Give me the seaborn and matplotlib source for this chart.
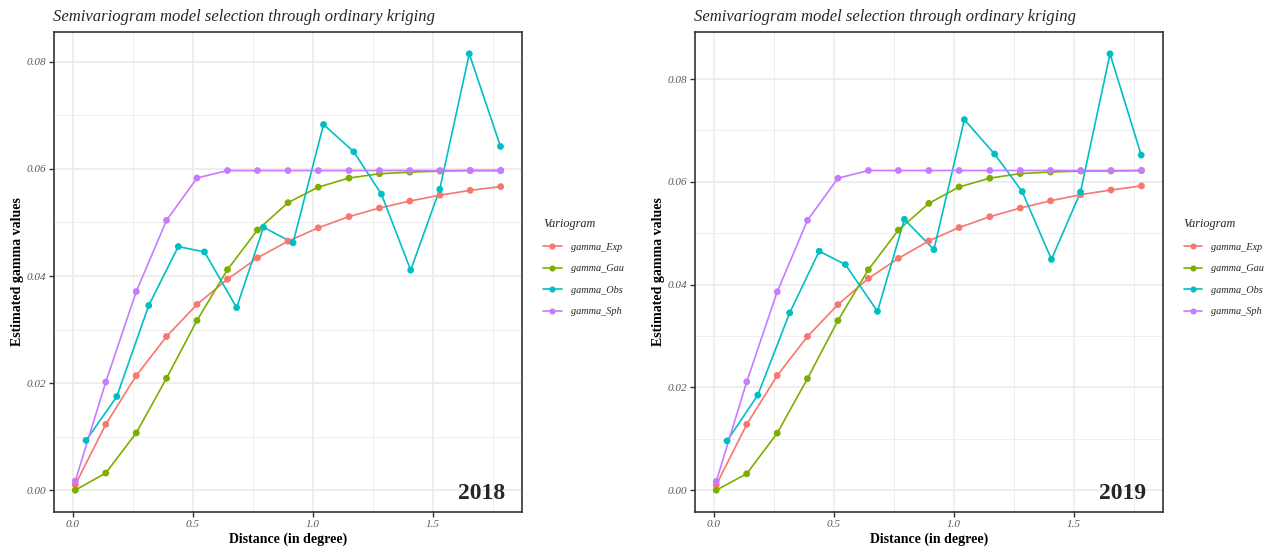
import numpy as np
import pandas as pd
import matplotlib
matplotlib.use("Agg")
import matplotlib.pyplot as plt
from matplotlib.lines import Line2D
import seaborn as sns

# ---------------- data ----------------
years = ["2018", "2019"]
series_names = ["gamma_Exp", "gamma_Gau", "gamma_Obs", "gamma_Sph"]
palette = ["#F8766D", "#7CAE00", "#00BFC4", "#C77CFF"]

dist_model = [0.010, 0.137, 0.264, 0.390, 0.517, 0.644, 0.769, 0.896,
              1.022, 1.150, 1.277, 1.403, 1.529, 1.655, 1.782]
dist_obs = [0.055, 0.183, 0.316, 0.439, 0.548, 0.682, 0.794, 0.917,
            1.044, 1.170, 1.285, 1.407, 1.528, 1.651, 1.781]

exp_2018 = [0.0010, 0.0123, 0.0214, 0.0287, 0.0347, 0.0394, 0.0434, 0.0465,
            0.0490, 0.0511, 0.0527, 0.0540, 0.0551, 0.0560, 0.0567]
gau_2018 = [0.0000, 0.0032, 0.0107, 0.0209, 0.0317, 0.0412, 0.0486, 0.0537,
            0.0566, 0.0583, 0.0591, 0.0594, 0.0596, 0.0597, 0.0597]
obs_2018 = [0.0093, 0.0175, 0.0345, 0.0455, 0.0445, 0.0341, 0.0491, 0.0462,
            0.0683, 0.0632, 0.0553, 0.0411, 0.0562, 0.0815, 0.0642]
sph_2018 = [0.0017, 0.0202, 0.0371, 0.0504, 0.0583, 0.0597, 0.0597, 0.0597,
            0.0597, 0.0597, 0.0597, 0.0597, 0.0597, 0.0597, 0.0597]

exp_2019 = [0.0010, 0.0128, 0.0223, 0.0299, 0.0361, 0.0412, 0.0451, 0.0485,
            0.0511, 0.0532, 0.0549, 0.0563, 0.0575, 0.0584, 0.0592]
gau_2019 = [0.0000, 0.0032, 0.0111, 0.0217, 0.0330, 0.0429, 0.0506, 0.0558,
            0.0590, 0.0607, 0.0616, 0.0619, 0.0621, 0.0621, 0.0622]
obs_2019 = [0.0096, 0.0185, 0.0345, 0.0465, 0.0439, 0.0348, 0.0527, 0.0468,
            0.0721, 0.0654, 0.0581, 0.0449, 0.0580, 0.0849, 0.0652]
sph_2019 = [0.0017, 0.0211, 0.0386, 0.0525, 0.0607, 0.0622, 0.0622, 0.0622,
            0.0622, 0.0622, 0.0622, 0.0622, 0.0622, 0.0622, 0.0622]

x_ticks = [0.0, 0.5, 1.0, 1.5]
x_tick_labels = ["0.0", "0.5", "1.0", "1.5"]
x_minor = [0.25, 0.75, 1.25, 1.75]
y_ticks = [0.00, 0.02, 0.04, 0.06, 0.08]
y_tick_labels = ["0.00", "0.02", "0.04", "0.06", "0.08"]
y_minor = [0.01, 0.03, 0.05, 0.07]

title_text = "Semivariogram model selection through ordinary kriging"
x_label = "Distance (in degree)"
y_label = "Estimated gamma values"
legend_title = "Variogram"

# ---------------- style ----------------
sns.set_style("white")
plt.rcParams["font.family"] = ["Liberation Serif", "DejaVu Serif"]

fig = plt.figure(figsize=(12.86, 5.47), dpi=100)
W, H = 1286, 547
ax_left = fig.add_axes([54 / W, (H - 512) / H, (522 - 54) / W, (512 - 32) / H])
ax_right = fig.add_axes([695 / W, (H - 512) / H, (1162.7 - 695) / W, (512 - 32) / H])

datasets = {
    "2018": (exp_2018, gau_2018, obs_2018, sph_2018),
    "2019": (exp_2019, gau_2019, obs_2019, sph_2019),
}

grid_col = "#EBEBEB"
border_col = "#333333"

for ax, year in zip([ax_left, ax_right], years):
    e, g, o, s = datasets[year]
    frames = []
    for name, xs, ys in zip(series_names,
                            [dist_model, dist_model, dist_obs, dist_model],
                            [e, g, o, s]):
        frames.append(pd.DataFrame({"Distance": xs, "gamma": ys, "Variogram": name}))
    df = pd.concat(frames, ignore_index=True)

    sns.lineplot(data=df, x="Distance", y="gamma", hue="Variogram",
                 hue_order=series_names, palette=palette, estimator=None,
                 linewidth=1.2, legend=False, ax=ax, zorder=3)
    sns.scatterplot(data=df, x="Distance", y="gamma", hue="Variogram",
                    hue_order=series_names, palette=palette, s=24,
                    linewidth=0, legend=False, ax=ax, zorder=4)

    # ggplot-like 5% expansion
    xmin, xmax = df["Distance"].min(), df["Distance"].max()
    ymin, ymax = df["gamma"].min(), df["gamma"].max()
    dx, dy = (xmax - xmin) * 0.05, (ymax - ymin) * 0.05
    ax.set_xlim(xmin - dx, xmax + dx)
    ax.set_ylim(ymin - dy, ymax + dy)

    ax.set_xticks(x_ticks)
    ax.set_xticklabels(x_tick_labels, fontstyle="italic")
    ax.set_yticks(y_ticks)
    ax.set_yticklabels(y_tick_labels, fontstyle="italic")
    ax.set_xticks(x_minor, minor=True)
    ax.set_yticks(y_minor, minor=True)
    ax.tick_params(which="major", length=3.4, width=1.0, color=border_col,
                   labelsize=8, labelcolor="#5A5A5A", direction="out",
                   left=True, bottom=True)
    ax.tick_params(axis="y", which="major", pad=2.5)
    ax.tick_params(axis="x", which="major", pad=2.5)
    ax.tick_params(which="minor", length=0)

    ax.grid(which="major", color=grid_col, linewidth=1.2)
    ax.grid(which="minor", color=grid_col, linewidth=0.6)
    ax.set_axisbelow(True)
    for sp in ax.spines.values():
        sp.set_visible(True)
        sp.set_color(border_col)
        sp.set_linewidth(1.2)

    ax.set_xlabel(x_label, fontsize=10, fontweight="bold", color="black")
    ax.set_ylabel(y_label, fontsize=10, fontweight="bold", color="black")
    ax.xaxis.set_label_coords(0.5, -0.042)
    ax.xaxis.label.set_va("top")
    ax.yaxis.set_label_coords(-0.064, 0.5)

    ax.text(-0.002, 1.0235, title_text, transform=ax.transAxes,
            fontsize=12, fontstyle="italic", ha="left", va="baseline")
    ax.text(0.964, 0.027, year, transform=ax.transAxes, fontsize=17,
            fontweight="bold", ha="right", va="baseline")

    handles = [Line2D([0], [0], color=c, lw=1.2, marker="o", markersize=4.4,
                      markeredgewidth=0) for c in palette]
    leg = ax.legend(handles, series_names, title=legend_title,
                    loc="center left", bbox_to_anchor=(1.045, 0.51),
                    frameon=False, borderaxespad=0, borderpad=0,
                    handlelength=1.8, handletextpad=0.9, labelspacing=1.2,
                    prop={"style": "italic", "size": 7.4},
                    title_fontproperties={"style": "italic", "size": 8.8},
                    alignment="left")

fig.savefig("out.png", dpi=100)
